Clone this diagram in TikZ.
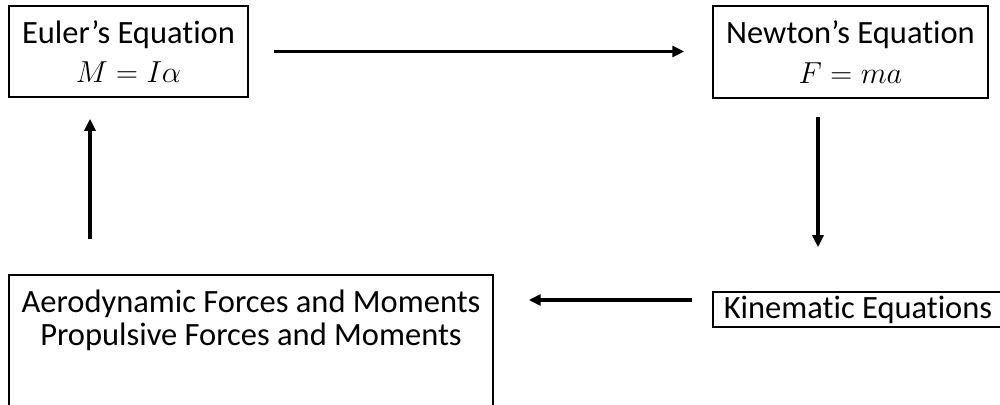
\documentclass[tikz,border=0pt]{standalone}
\usepackage{fontspec}
\setmainfont{Carlito}[Ligatures=NoCommon]
\usepackage{tikz}
\usetikzlibrary{arrows.meta}
\usetikzlibrary{positioning}
\tikzset{>=latex}
\tikzset{
    eqbox/.style = {draw, line width=0.9pt, align=center, inner sep=0pt,
        font=\fontsize{18.5}{22.5}\selectfont},
    flow/.style = {line width=2.1pt, -{Triangle[length=0.24cm,width=0.22cm]}},
}
\begin{document}
\begin{tikzpicture}[x=0.02cm,y=-0.02cm]
    \useasboundingbox (0,0) rectangle (1000,405);
    \node[eqbox, minimum width=4.78cm, minimum height=1.82cm] (euler) at (128.5,51.5)
        {Euler's Equation\\$M = I\alpha$};
    \node[eqbox, minimum width=5.5cm, minimum height=1.84cm] (newton) at (850.5,52)
        {Newton's Equation\\$F = ma$};
    \node[eqbox, minimum width=5.8cm, minimum height=0.7cm] (kin) at (858,309.5)
        {Kinematic Equations};
    \node[eqbox, minimum width=9.68cm, minimum height=2.9cm,
          label={[anchor=north, align=center, yshift=-0.2cm,
                  font=\fontsize{18.5}{18.5}\selectfont]north:Aerodynamic Forces and Moments\\Propulsive Forces and Moments}]
        (aero) at (251,347.5) {};
    % the loop
    \draw[flow, shorten <=0.5cm, shorten >=0.56cm] (euler.east) -- (euler.east -| newton.west);
    \draw[flow, shorten <=0.36cm, shorten >=0.88cm]
        ([xshift=-0.65cm]newton.south) -- ([xshift=-0.65cm]newton.south |- kin.north);
    \draw[flow, shorten <=0.4cm, shorten >=0.7cm]
        ([yshift=0.19cm]kin.west) -- ([yshift=0.19cm]kin.west -| aero.east);
    \draw[flow, shorten <=0.7cm, shorten >=0.42cm]
        ([xshift=-0.77cm]euler.south |- aero.north) -- ([xshift=-0.77cm]euler.south);
\end{tikzpicture}
\end{document}
